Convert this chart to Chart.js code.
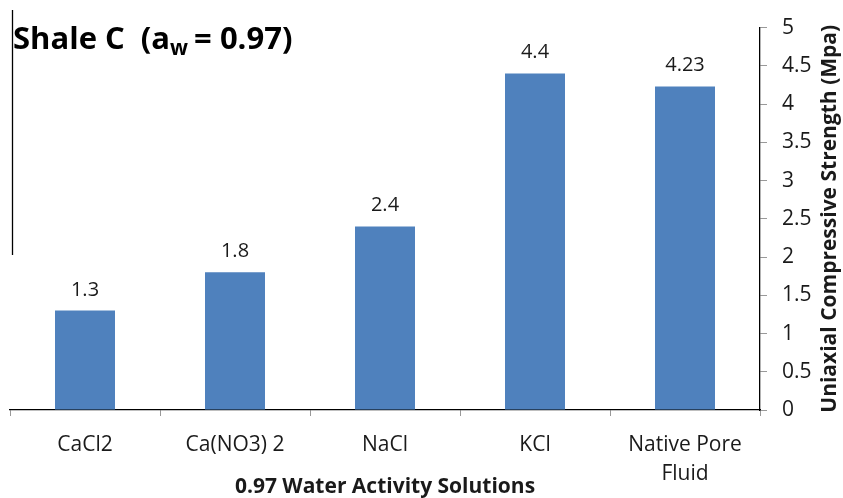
<!DOCTYPE html>
<html>
<head>
<meta charset="utf-8">
<script src="https://cdn.jsdelivr.net/npm/chart.js@4/dist/chart.umd.min.js"></script>
<style>
  html, body { margin: 0; padding: 0; background: #fff; }
  #wrap { width: 843px; height: 498px; }
</style>
</head>
<body>
<div id="wrap"><canvas id="c" width="843" height="498"></canvas></div>
<script>
// Uniaxial compressive strength per test solution
const categories = ['CaCl2', 'Ca(NO3) 2', 'NaCl', 'KCl', ['Native Pore', 'Fluid']];
const strengthMpa = [1.3, 1.8, 2.4, 4.4, 4.23];
const valueLabels = ['1.3', '1.8', '2.4', '4.4', '4.23'];
const yTicks = [0, 0.5, 1, 1.5, 2, 2.5, 3, 3.5, 4, 4.5, 5];

const FONT = '"Open Sans", "Liberation Sans", sans-serif';
const TEXT = '#1a1a1a';

// Draws the heading, the axis titles, the value labels and the left rule
const annotations = {
  id: 'annotations',
  afterDraw(chart) {
    const ctx = chart.ctx;
    const area = chart.chartArea;
    ctx.save();

    // left rule
    ctx.strokeStyle = '#000';
    ctx.lineWidth = 1.3;
    ctx.beginPath();
    ctx.moveTo(12.5, 10);
    ctx.lineTo(12.5, 255);
    ctx.stroke();

    // heading with subscript
    ctx.fillStyle = '#000';
    ctx.textBaseline = 'alphabetic';
    ctx.textAlign = 'left';
    let x = 13;
    const base = 49;
    ctx.font = 'bold 31px ' + FONT;
    const p1 = 'Shale C  (a';
    ctx.fillText(p1, x, base);
    x += ctx.measureText(p1).width;
    ctx.font = 'bold 21px ' + FONT;
    ctx.fillText('w', x, base + 6);
    x += ctx.measureText('w').width - 2;
    ctx.font = 'bold 31px ' + FONT;
    ctx.fillText(' = 0.97)', x, base);

    // value labels above the bars
    const meta = chart.getDatasetMeta(0);
    ctx.font = '20px ' + FONT;
    ctx.fillStyle = TEXT;
    ctx.textAlign = 'center';
    meta.data.forEach((bar, i) => {
      ctx.fillText(valueLabels[i], bar.x, bar.y - 15);
    });

    // x axis title
    ctx.font = 'bold 21px ' + FONT;
    ctx.fillText('0.97 Water Activity Solutions', (area.left + area.right) / 2, 493);

    // y axis title, reading bottom to top
    ctx.translate(836, (area.top + area.bottom) / 2);
    ctx.rotate(-Math.PI / 2);
    ctx.font = 'bold 21px ' + FONT;
    ctx.fillText('Uniaxial Compressive Strength (Mpa)', 0, 0);

    ctx.restore();
  }
};

new Chart(document.getElementById('c'), {
  type: 'bar',
  data: {
    labels: categories,
    datasets: [{
      data: strengthMpa,
      backgroundColor: '#4F81BD',
      borderWidth: 0,
      barPercentage: 0.8,
      categoryPercentage: 0.5
    }]
  },
  options: {
    responsive: false,
    animation: false,
    layout: { padding: { left: 10, top: 20, right: 0, bottom: 0 } },
    plugins: { legend: { display: false }, tooltip: { enabled: false } },
    scales: {
      x: {
        grid: {
          offset: true,
          drawOnChartArea: false,
          drawTicks: true,
          tickLength: 6,
          color: '#999'
        },
        border: { display: true, color: '#000', width: 1.3 },
        ticks: {
          color: TEXT,
          font: { family: FONT, size: 21, lineHeight: 1.38 },
          padding: 15,
          maxRotation: 0,
          autoSkip: false
        },
        afterFit(scale) { scale.height = 88; }
      },
      y: {
        position: 'right',
        min: 0,
        max: 5,
        afterBuildTicks(scale) { scale.ticks = yTicks.map(v => ({ value: v })); },
        grid: {
          drawOnChartArea: false,
          drawTicks: true,
          tickLength: 7,
          color: '#999'
        },
        border: { display: true, color: '#000', width: 1.3 },
        ticks: {
          color: TEXT,
          font: { family: FONT, size: 21 },
          padding: 15,
          callback: v => String(v)
        },
        afterFit(scale) { scale.width = 83; }
      }
    }
  },
  plugins: [annotations]
});
</script>
</body>
</html>
